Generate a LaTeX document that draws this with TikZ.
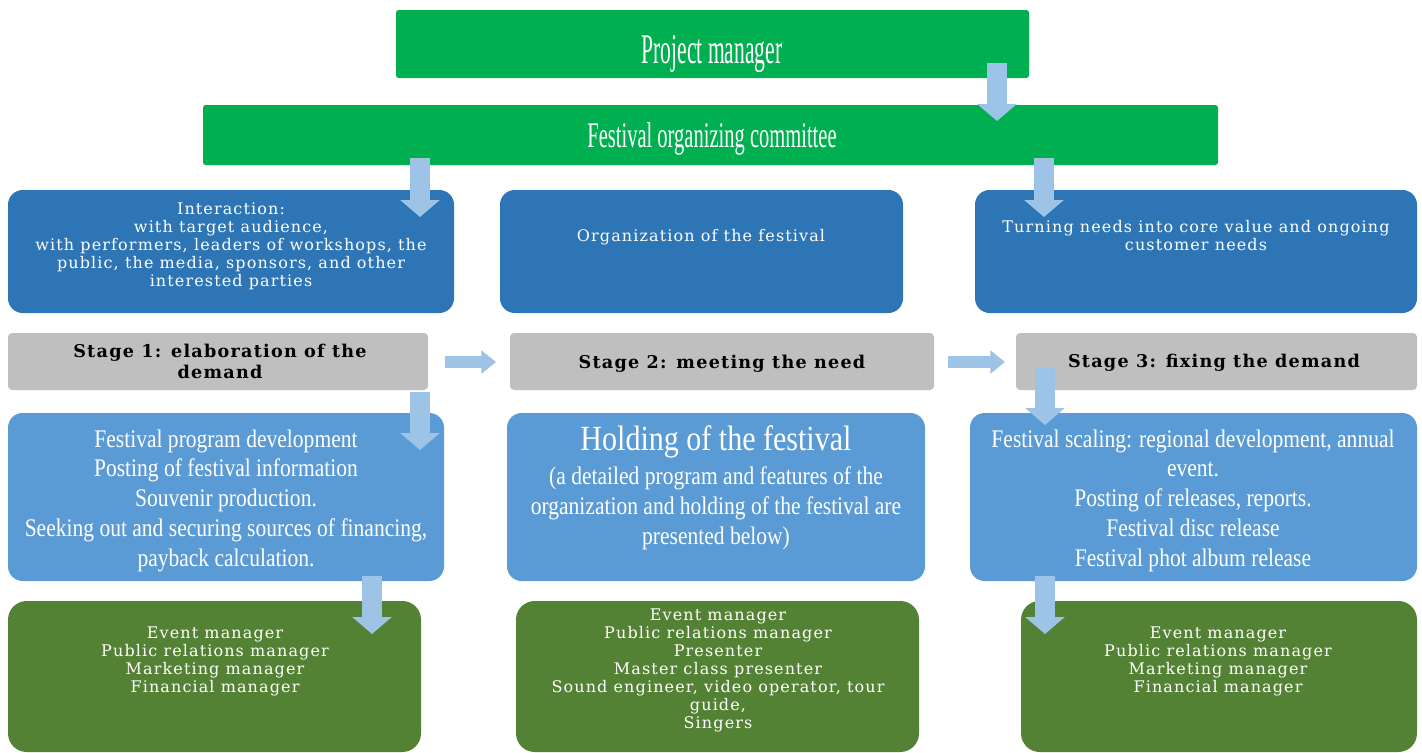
\documentclass[tikz,border=0pt]{standalone}
\usepackage{fontspec}
\usetikzlibrary{arrows.meta,fit}
\newfontfamily\ttlfont[FakeStretch=0.51]{Liberation Serif}
\newfontfamily\subfont[FakeStretch=0.57]{Liberation Serif}
\newfontfamily\bxfont[FakeStretch=0.85]{Liberation Serif}
\newfontfamily\cfont[LetterSpace=7]{DejaVu Serif}
\definecolor{fo_green}{RGB}{0, 176, 80}
\definecolor{fo_dblue}{RGB}{46, 117, 182}
\definecolor{fo_grey}{RGB}{191, 191, 191}
\definecolor{fo_mblue}{RGB}{91, 155, 213}
\definecolor{fo_dgreen}{RGB}{84, 130, 53}
\definecolor{fo_arrow}{RGB}{157, 195, 230}
\tikzstyle{tb}=[rectangle,rounded corners=2pt,fill=fo_green,inner sep=0pt]
\tikzstyle{db}=[rectangle,rounded corners=11pt,fill=fo_dblue,inner sep=0pt]
\tikzstyle{sg}=[rectangle,rounded corners=3pt,fill=fo_grey,inner sep=0pt]
\tikzstyle{mb}=[rectangle,rounded corners=11pt,fill=fo_mblue,inner sep=0pt]
\tikzstyle{gb}=[rectangle,rounded corners=14pt,fill=fo_dgreen,inner sep=0pt]
\tikzstyle{ttl}=[anchor=base,text=white,font=\ttlfont\fontsize{31.7}{36}\selectfont]
\tikzstyle{sub}=[anchor=base,text=white,font=\subfont\fontsize{27}{32}\selectfont]
\tikzstyle{bt}=[anchor=base,text=white,align=center,
  font=\bxfont\fontsize{19}{22.3}\selectfont]
\tikzstyle{ct}=[anchor=base,text=white,align=center,
  font=\cfont\fontsize{12}{13.5}\selectfont]
\tikzstyle{stg}=[anchor=base,text=black,align=center,
  font=\cfont\bfseries\fontsize{13.2}{15.75}\selectfont]
\tikzstyle{va}=[draw=fo_arrow,line width=15pt,-{Triangle[width=29pt,length=12.75pt]}]
\tikzstyle{ha}=[draw=fo_arrow,line width=9pt,-{Triangle[width=17pt,length=11pt]}]
\tikzstyle{none}=[inner sep=0pt]

\begin{document}
\begin{tikzpicture}[x=0.75pt,y=-0.75pt]
            \useasboundingbox (0,0) rectangle (1422,753);
            \node [style=tb, fit={(396,10) (1029,78)}] (0) {};
            \node [style=tb, fit={(203,105) (1218,165)}] (1) {};
            \node [style=db, fit={(8,190) (454,313)}] (2) {};
            \node [style=db, fit={(500,190) (903,313)}] (3) {};
            \node [style=db, fit={(975,190) (1417,313)}] (4) {};
            \node [style=sg, fit={(8,333) (428,390)}] (5) {};
            \node [style=sg, fit={(510,333) (934,390)}] (6) {};
            \node [style=sg, fit={(1016,333) (1417,390)}] (7) {};
            \node [style=mb, fit={(8,413) (444,581)}] (8) {};
            \node [style=mb, fit={(507,413) (925,581)}] (9) {};
            \node [style=mb, fit={(970,413) (1417,581)}] (10) {};
            \node [style=gb, fit={(8,601) (421,752)}] (11) {};
            \node [style=gb, fit={(516,601) (919,752)}] (12) {};
            \node [style=gb, fit={(1021,601) (1417,752)}] (13) {};
            \node [style=none] (20) at (997,63) {};
            \node [style=none] (21) at (997,121) {};
            \node [style=none] (22) at (420,158) {};
            \node [style=none] (23) at (420,217) {};
            \node [style=none] (24) at (1044,158) {};
            \node [style=none] (25) at (1044,217) {};
            \node [style=none] (26) at (445,362) {};
            \node [style=none] (27) at (496,362) {};
            \node [style=none] (28) at (948,362) {};
            \node [style=none] (29) at (1005,362) {};
            \node [style=none] (30) at (420,392) {};
            \node [style=none] (31) at (420,450) {};
            \node [style=none] (32) at (1045,368) {};
            \node [style=none] (33) at (1045,425) {};
            \node [style=none] (34) at (372,576) {};
            \node [style=none] (35) at (372,634) {};
            \node [style=none] (36) at (1045,576) {};
            \node [style=none] (37) at (1045,634) {};
            \draw [style=va] (20.center) to (21.center);
            \draw [style=va] (22.center) to (23.center);
            \draw [style=va] (24.center) to (25.center);
            \draw [style=ha] (26.center) to (27.center);
            \draw [style=ha] (28.center) to (29.center);
            \draw [style=va] (30.center) to (31.center);
            \draw [style=va] (32.center) to (33.center);
            \draw [style=va] (34.center) to (35.center);
            \draw [style=va] (36.center) to (37.center);
            \node [style=ttl] (40) at (712,63) {Project manager};
            \node [style=sub] (41) at (712,147) {Festival organizing committee};
            \node [style=ct] (42) at (231,286) {Interaction:\\ with target audience,\\ with performers, leaders of workshops, the\\ public, the media, sponsors, and other\\ interested parties};
            \node [style=ct] (43) at (701,241) {Organization of the festival};
            \node [style=ct] (44) at (1196,250) {Turning needs into core value and ongoing\\ customer needs};
            \node [style=stg] (45) at (220,378) {Stage 1: elaboration of the\\ demand};
            \node [style=stg] (46) at (722,368) {Stage 2: meeting the need};
            \node [style=stg] (47) at (1214,367) {Stage 3: fixing the demand};
            \node [style=bt] (48) at (226,566) {Festival program development\\ Posting of festival information\\ Souvenir production.\\ Seeking out and securing sources of financing,\\ payback calculation.};
            \node [style=bt] (49) at (716,450) {\fontsize{26.5}{30}\selectfont Holding of the festival};
            \node [style=bt] (50) at (716,544) {(a detailed program and features of the\\ organization and holding of the festival are\\ presented below)};
            \node [style=bt] (51) at (1193,566) {Festival scaling: regional development, annual\\ event.\\ Posting of releases, reports.\\ Festival disc release\\ Festival phot album release};
            \node [style=ct] (52) at (215,692) {Event manager\\ Public relations manager\\ Marketing manager\\ Financial manager};
            \node [style=ct] (53) at (718,728) {Event manager\\ Public relations manager\\ Presenter\\ Master class presenter\\ Sound engineer, video operator, tour\\ guide,\\ Singers};
            \node [style=ct] (54) at (1218,692) {Event manager\\ Public relations manager\\ Marketing manager\\ Financial manager};
    \end{tikzpicture}
\end{document}
